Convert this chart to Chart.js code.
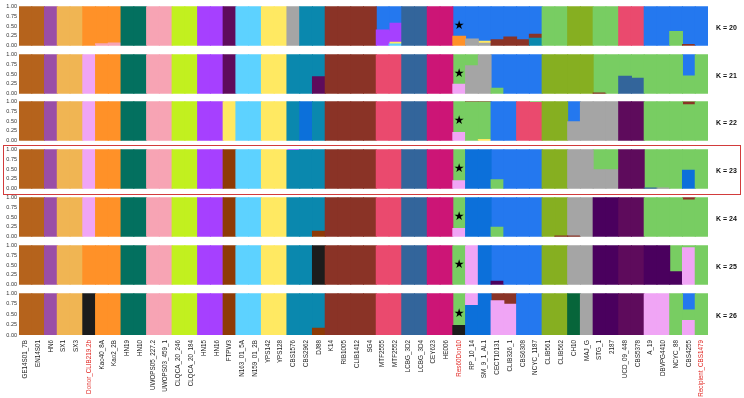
<!DOCTYPE html>
<html><head><meta charset="utf-8">
<script src="https://cdn.jsdelivr.net/npm/chart.js@4.4.1/dist/chart.umd.min.js"></script>
<style>
html,body{margin:0;padding:0;background:#fff;}
#wrap{position:relative;width:744px;height:398px;overflow:hidden;background:#fff;}
.pane{position:absolute;left:0;width:744px;}
#box{position:absolute;left:3px;top:145px;width:738px;height:50px;border:1.4px solid #D23B3B;box-sizing:border-box;pointer-events:none;z-index:5;}
</style></head><body>
<div id="wrap"><div id="box"></div></div>
<script>
// ---- DATA ----
const samples = ['GE14S01_7B','EN14S01','HN6','SX1','SX3','Donor_CLIB219.2b','Kao40_8A','Kao2_2B','HN19','HN10',
 'UWOPS05_227.2','UWOPS03_459_1','CLQCA_20_246','CLQCA_20_184','HN15','HN16','FTPW3','N163_01_5A','N159_01_2B','YPS142',
 'YPS128','CBS1576','CBS2962','DJ88','K14','RIB1005','CLIB1412','SG4','MTF2555','MTF2552',
 'LCBG_3D2','LCBG_3D4','CEY623','HE006','Res60Don10','RP_10_14','SM_9_1_AL1','CECT10131','CLIB326_1','CBS6308',
 'NCYC_1187','CLIB561','CLIB562','CH10','MAJ_G','STG_1','2187','UCD_09_448','CBS5378','A_19',
 'DBVPG4410','NCYC_88','CBS4255','Recipient_CBS1479'];
const redSamples = ['Donor_CLIB219.2b','Res60Don10','Recipient_CBS1479'];
const starSample = 'Res60Don10';
const kValues = [20,21,22,23,24,25,26];
const yTicks = [0,0.25,0.5,0.75,1];

// cluster memberships per sample, bottom -> top ("cluster:fraction")
const k20 = ['BR','BR','PU','LO','LO','OR','PK:0.05 OR:0.95','PK:0.07 OR:0.93','TG','TG',
 'PK','PK','LI','LI','VI','VI','PL','LB','LB','YE',
 'YE','GR','TB','TB','RB','RB','RB','RB','VI:0.40 B1:0.60','LB:0.04 YE:0.05 VI:0.48 B1:0.43',
 'SB','SB','MG','MG','OR:0.24 B1:0.76','GR:0.17 B1:0.83','GR:0.06 YE:0.05 B1:0.89','RB:0.15 B1:0.85','RB:0.22 B1:0.78','RB:0.15 B1:0.85',
 'TB:0.19 RB:0.10 B1:0.71','GN','GN','OL','OL','GN','GN','PR','PR','B1',
 'B1','GN:0.36 B1:0.64','RB:0.03 B1:0.97','B1'];
const k21 = ['BR','BR','PU','LO','LO','LV','OR','OR','TG','TG',
 'PK','PK','LI','LI','VI','VI','PL','LB','LB','YE',
 'YE','TB','TB','PL:0.43 TB:0.57','RB','RB','RB','RB','PR','PR',
 'SB','SB','MG','MG','LV:0.24 GN:0.76','GR:0.71 GN:0.29','GR','GN:0.14 B1:0.86','B1','B1',
 'B1','OL','OL','OL','OL','RB:0.02 GN:0.98','GN','SB:0.44 GN:0.56','SB:0.39 GN:0.61','GN',
 'GN','GN','GN:0.45 B1:0.55','GN'];
const k22 = ['BR','BR','PU','LO','LO','LV','OR','OR','TG','TG',
 'PK','PK','LI','LI','VI','VI','YE','LB','LB','YE',
 'YE','TB','B2','TB','RB','RB','RB','RB','PR','PR',
 'SB','SB','MG','MG','LV:0.21 GN:0.79','GN:0.98 RB:0.02','YE:0.03 GN:0.95 RB:0.02','B1','B1','PR',
 'PR:0.97 GN:0.03','OL','OL','GR:0.48 B1:0.52','GR','GR','GR','PL','PL','GN',
 'GN','GN','GN:0.91 RB:0.07 GN:0.02','GN'];
const k23 = ['BR','BR','PU','LO','LO','LV','OR','OR','TG','TG',
 'PK','PK','LI','LI','VI','VI','RU','LB','LB','YE',
 'YE','TB:0.97 VI:0.03','TB','TB','RB','RB','RB','RB','PR','PR',
 'SB','SB','MG','MG','LV:0.20 GN:0.80','B2','B2','GN:0.23 B1:0.77','B1','B1',
 'B1','OL','OL','GR','GR','GR:0.48 GN:0.52','GR:0.48 GN:0.52','PL','PL','SB:0.02 GN:0.98',
 'GR:0.02 GN:0.98','GN','B2:0.47 GN:0.53','GN'];
const k24 = ['BR','BR','PU','LO','LO','LV','OR','OR','TG','TG',
 'PK','PK','LI','LI','VI','VI','RU','LB','LB','YE',
 'YE','TB','TB','RU:0.14 TB:0.86','RB','RB','RB','RB','PR','PR',
 'SB','SB','MG','MG','LV:0.21 GN:0.79','B2','B2','GN:0.24 B1:0.76','B1','B1',
 'B1','OL','RB:0.02 OL:0.98','RB:0.02 GR:0.98','GR','DV','DV','PL','PL','GN',
 'GN','GN','GN:0.93 RB:0.07','GN'];
const k25 = ['BR','BR','PU','LO','LO','OR','OR','OR','TG','TG',
 'PK','PK','LI','LI','VI','VI','RU','LB','LB','YE',
 'YE','TB','TB','BK','RB','RB','RB','RB','PR','PR',
 'SB','SB','MG','MG','GN','LV','B2','DV:0.09 B1:0.91','B1','B1',
 'B1','OL','OL','GR','GR','DV','DV','PL','PL','DV',
 'DV','DV:0.33 GN:0.67','LV:0.94 GN:0.06','GN'];
const k26 = ['BR','BR','PU','LO','LO','BK','OR','OR','TG','TG',
 'PK','PK','LI','LI','VI','VI','RU','LB','LB','YE',
 'YE','TB','TB','RU:0.16 TB:0.84','RB','RB','RB','RB','PR','PR',
 'SB','SB','MG','MG','BK:0.23 GN:0.77','B2:0.71 LV:0.29','B2','LV:0.82 RB:0.18','LV:0.74 RB:0.26','B1',
 'B1','OL','OL','DG','GR','DV','DV','PL','PL','LV',
 'LV','GN','LV:0.35 GN:0.25 B1:0.40','GN'];
const panels = [k20,k21,k22,k23,k24,k25,k26];

// ---- STYLE ----
const palette = {
 BR:'#B5631C', PU:'#9A4EA6', LO:'#F0B553', OR:'#FF9128', LV:'#F0A5F5', TG:'#03705F',
 PK:'#F7A4B4', LI:'#C2F01F', VI:'#A640FF', PL:'#5E0B5C', YE:'#FFE962', RU:'#8E3B06',
 LB:'#5DD2FF', GR:'#A5A5A5', TB:'#0A88AE', B2:'#0C70DA', RB:'#8A3326', PR:'#EA4A6E',
 SB:'#33659B', MG:'#CC1576', B1:'#2478EF', GN:'#78CD62', OL:'#86AF21', DV:'#4A005E',
 BK:'#1C1C1C', DG:'#07653A'
};
const panelTop = [5,53,100,148,196,244,292];
const panelBottom = [47,95,142,190,238,286,335];
const FONT = "'Liberation Sans', Arial, sans-serif";

function parseEntry(e){
  return e.split(' ').map(s=>{const p=s.split(':');return {c:p[0],v:p.length>1?parseFloat(p[1]):1};});
}
function buildDatasets(arr){
  const parsed = arr.map(parseEntry);
  const depth = Math.max(...parsed.map(p=>p.length));
  const ds=[];
  for(let j=0;j<depth;j++){
    ds.push({
      data: parsed.map(p=>p[j]?p[j].v:null),
      backgroundColor: parsed.map(p=>p[j]?palette[p[j].c]:'rgba(0,0,0,0)'),
      borderWidth:0, inflateAmount:0.5, categoryPercentage:1, barPercentage:1
    });
  }
  return ds;
}
const starPlugin = {id:'star', afterDatasetsDraw(chart){
  const ctx=chart.ctx;
  const x=chart.scales.x.getPixelForValue(samples.indexOf(starSample));
  const y=chart.scales.y.getPixelForValue(0.5);
  ctx.save(); ctx.fillStyle='#000'; ctx.font="12px 'DejaVu Sans'";
  ctx.textAlign='center'; ctx.textBaseline='middle'; ctx.fillText('\u2605',x,y); ctx.restore();
}};
function kLabelPlugin(k){ return {id:'klabel', afterDraw(chart){
  const ctx=chart.ctx, a=chart.chartArea;
  ctx.save(); ctx.fillStyle='#111'; ctx.font="bold 7px "+FONT;
  ctx.textAlign='left'; ctx.textBaseline='middle';
  ctx.fillText('K = '+k, a.right+8, (a.top+a.bottom)/2+2); ctx.restore();
}};}

const wrap=document.getElementById('wrap'), box=document.getElementById('box');
panels.forEach((arr,i)=>{
  const last = i===panels.length-1;
  const top = panelTop[i]-4;
  const ph = panelBottom[i]-panelTop[i];
  const h = last ? 398-top : ph+8;
  const div=document.createElement('div'); div.className='pane';
  div.style.top=top+'px'; div.style.height=h+'px';
  const cv=document.createElement('canvas'); cv.width=744; cv.height=h;
  cv.style.width='744px'; cv.style.height=h+'px';
  div.appendChild(cv); wrap.insertBefore(div,box);
  new Chart(cv,{
    type:'bar',
    data:{labels:samples, datasets:buildDatasets(arr)},
    options:{
      responsive:false, animation:false, devicePixelRatio:1,
      layout:{padding:{left:0,right:36,top:4,bottom:last?0:4}},
      plugins:{legend:{display:false},tooltip:{enabled:false}},
      scales:{
        x:{stacked:true, display:last, offset:true,
           grid:{display:false,drawTicks:false}, border:{display:false},
           ticks:{autoSkip:false,maxRotation:90,minRotation:90,padding:5,
             font:{family:FONT,size:6.3},
             color:(c)=>redSamples.includes(samples[c.index])?'#E0241F':'#222'},
           afterFit:(s)=>{ if(last) s.height=h-4-ph; }},
        y:{stacked:true,min:0,max:1,
           afterBuildTicks:(s)=>{ s.ticks=yTicks.map(v=>({value:v})); },
           ticks:{callback:(v)=>Number(v).toFixed(2),font:{family:FONT,size:5.5},color:'#333',padding:2},
           grid:{display:false,drawTicks:false}, border:{display:false},
           afterFit:(s)=>{ s.width=19; }}
      }
    },
    plugins:[starPlugin,kLabelPlugin(kValues[i])]
  });
});
</script>
</body></html>
